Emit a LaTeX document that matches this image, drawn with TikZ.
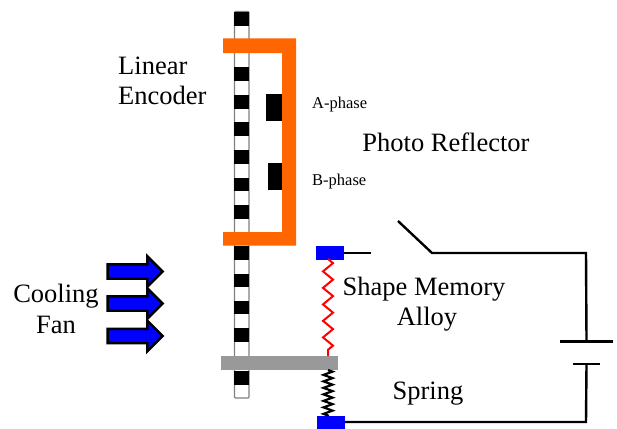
\documentclass[tikz,border=0pt]{standalone}
\usepackage{fontspec}
\setmainfont{Liberation Serif}
\usetikzlibrary{decorations.pathmorphing,shapes.arrows}
\definecolor{frameorange}{RGB}{255,102,0}
\tikzset{
	terminal/.style={fill=blue,inner sep=0pt,minimum width=28pt,minimum height=14pt},
	wire/.style={line width=2.4pt},
	fan/.style={single arrow,draw=black,fill=blue,line width=2.4pt,inner xsep=0pt,inner ysep=6pt,minimum height=55pt,single arrow head extend=8pt,single arrow tip angle=90},
	label/.style={font=\fontsize{26.5}{26.5}\selectfont,inner sep=0pt},
	small/.style={font=\fontsize{16.5}{16.5}\selectfont,inner sep=0pt,anchor=west}
}
\begin{document}
\begin{tikzpicture}[x=1pt,y=-1pt]
	\useasboundingbox (0,0) rectangle (617,428);

	\draw[gray,line width=1.2pt,fill=white,rounded corners=1pt] (234.5,11.5) rectangle (249,398); % encoder strip
	\foreach \y in {12,39.6,67,95,122,150,177.6,205,246,273.5,300.5,328,371}
		\fill (234,\y) rectangle (249,\y+13.8); % encoder marks

	\fill[frameorange] (223,38.5) -- (296,38.5) -- (296,245.5) -- (223,245.5) -- (223,232) -- (282,232) -- (282,53) -- (223,53) -- cycle; % photo reflector bracket
	\fill (266,94) rectangle (282,121); % A-phase sensor
	\fill (268,163) rectangle (282,190); % B-phase sensor

	\node[fill=black!40,inner sep=0pt,minimum width=117pt,minimum height=14pt] (plate) at (279.5,363) {}; % moving plate
	\node[terminal] (topterm) at (330,253) {};
	\node[terminal] (botterm) at (331,423) {};
	\coordinate (swleft) at (371,253);
	\coordinate (swtip) at (398,221);
	\coordinate (swpivot) at (432,253);
	\coordinate (corner1) at (586,253);
	\coordinate (corner2) at (586,422);
	\node[inner sep=0pt,minimum width=53pt,minimum height=0pt] (batlong) at (586.5,341.5) {};
	\node[inner sep=0pt,minimum width=27pt,minimum height=0pt] (batshort) at (586.5,364) {};

	\draw[wire] (topterm.east) -- (swleft);
	\draw[wire] (swtip) -- (swpivot) -- (corner1) -- (batlong.center); % switch and upper wire
	\draw[wire] (batlong.west) -- (batlong.east);
	\draw[wire] (batshort.west) -- (batshort.east);
	\draw[wire] (batshort.center) -- (corner2) -- (botterm.east |- corner2); % lower wire

	\draw[red,line width=2pt,decorate,decoration={zigzag,segment length=16.5pt,amplitude=5pt}] (328,259) -- (328,356); % alloy wire
	\draw[black,line width=2.2pt,decorate,decoration={zigzag,segment length=6.5pt,amplitude=4.5pt}] (328,370) -- (328,416); % return spring

	\node[fan] (fan1) at (131.5,271.5) {};
	\node[fan] (fan2) at (131.5,303.5) {};
	\node[fan] (fan3) at (131.5,336) {};

	\node[label,anchor=base west] (linear) at (118,74) {Linear};
	\node[label,anchor=base west] (encoder) at (118,104) {Encoder};
	\node[small] (aphase) at (312,104.5) {A-phase};
	\node[small] (bphase) at (312,181.5) {B-phase};
	\node[label] (photo) at (446,142) {Photo Reflector};
	\node[label] (shape) at (424,289) {Shape Memory};
	\node[label] (alloy) at (427,319) {Alloy};
	\node[label] (spring) at (428,394) {Spring};
	\node[label] (cooling) at (56,296) {Cooling};
	\node[label] (fanlabel) at (56,325) {Fan};
\end{tikzpicture}
\end{document}
